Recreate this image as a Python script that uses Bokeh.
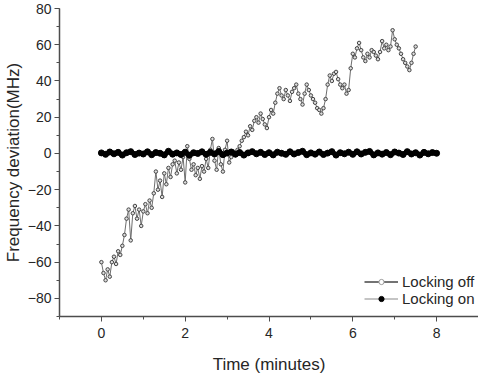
from bokeh.plotting import figure
from bokeh.models import Range1d, SingleIntervalTicker, Legend, LegendItem, ColumnDataSource
from bokeh.embed import file_html
from bokeh.resources import INLINE

# ---- data ----
step_off = 0.05
locking_off = [
    -60, -66, -70, -64, -68, -60, -57, -61, -54, -56,
    -51, -45, -36, -31, -48, -33, -29, -36, -31, -40,
    -32, -28, -33, -26, -30, -22, -10, -20, -15, -24,
    -11, -17, -8, -13, -6, -4, -11, -5, -9, -2,
    -16, 4, -3, -9, -6, -12, -8, -14, -7, -10,
    -3, -8, 2, 8, -4, -9, 3, -6, -10, 2,
    7, -5, -2, 1, -1, 2, 4, 7, 9, 12,
    10, 15, 13, 18, 20, 17, 22, 19, 16, 14,
    20, 24, 22, 28, 33, 36, 32, 30, 35, 32,
    29, 34, 36, 38, 33, 30, 27, 33, 38, 35,
    32, 30, 28, 25, 24, 22, 25, 30, 38, 43,
    40, 44, 45, 41, 38, 36, 38, 33, 35, 47,
    55, 53, 58, 61, 57, 53, 51, 55, 53, 57,
    56, 54, 52, 56, 62, 58, 60, 57, 59, 68,
    63, 60, 58, 55, 52, 50, 48, 46, 50, 55,
    59,
]
time_off = [round(i * step_off, 2) for i in range(len(locking_off))]

step_on = 0.1
locking_on = [
    0.3, -0.5, 0.8, -0.2, 0.6, -0.9, 0.4, 1.0, -0.6, 0.2,
    -0.3, 0.9, -0.7, 0.5, 0.1, -0.8, 1.2, -0.4, 0.3, -0.6,
    0.7, -1.0, 0.4, 0.0, 0.9, -0.5, 0.6, -0.3, 1.1, -0.7,
    0.2, 0.8, -0.4, 0.5, -0.9, 0.3, 1.0, -0.2, 0.6, -0.6,
    0.4, -0.8, 0.7, 0.1, -0.5, 0.9, -0.3, 0.5, 1.2, -0.7,
    0.3, -0.4, 0.8, -0.6, 0.2, 1.0, -0.9, 0.4, -0.2, 0.7,
    -0.5, 0.9, -0.3, 0.6, 1.1, -0.8, 0.3, -0.4, 0.5, -0.7,
    0.8, 0.2, -0.6, 1.0, -0.3, 0.4, -0.9, 0.6, -0.2, 0.5,
    0.1,
]
time_on = [round(i * step_on, 2) for i in range(len(locking_on))]

series_labels = ["Locking off", "Locking on"]
x_label = "Time (minutes)"
y_label = "Frequency deviation(MHz)"

FONT = "Liberation Sans"
TXT = "#262626"
AX = "#4d4d4d"

p = figure(width=478, height=376, output_backend="svg", toolbar_location=None,
           x_range=Range1d(-1, 9), y_range=Range1d(-90, 80),
           min_border_left=0, min_border_right=0, min_border_top=8, min_border_bottom=60)
p.outline_line_color = None
p.grid.visible = False
p.background_fill_color = "white"
p.border_fill_color = "white"

p.xaxis.ticker = SingleIntervalTicker(interval=2, num_minor_ticks=2)
p.yaxis.ticker = SingleIntervalTicker(interval=20, num_minor_ticks=2)

for ax in (p.xaxis, p.yaxis):
    ax.axis_line_color = AX
    ax.axis_line_width = 1.5
    ax.major_tick_line_color = AX
    ax.minor_tick_line_color = AX
    ax.major_tick_in = 0
    ax.major_tick_out = 5
    ax.minor_tick_in = 0
    ax.minor_tick_out = 3
    ax.major_label_text_font = FONT
    ax.major_label_text_font_size = "14px"
    ax.major_label_text_color = TXT
    ax.axis_label_text_font = FONT
    ax.axis_label_text_font_size = "17px"
    ax.axis_label_text_font_style = "normal"
    ax.axis_label_text_color = TXT

p.xaxis.axis_label = x_label
p.yaxis.axis_label = y_label
p.xaxis.major_label_standoff = 6
p.xaxis.axis_label_standoff = 14
p.yaxis.major_label_standoff = 3
p.yaxis.axis_label_standoff = 2

src_off = ColumnDataSource(dict(t=time_off, v=locking_off))
src_on = ColumnDataSource(dict(t=time_on, v=locking_on))

l_off = p.line("t", "v", source=src_off, line_color="#6e6e6e", line_width=1)
s_off = p.scatter("t", "v", source=src_off, marker="circle", size=3.5,
                  line_color="#444444", fill_color="#dddddd", line_width=1)

l_on = p.line("t", "v", source=src_on, line_color="black", line_width=5)
s_on = p.scatter("t", "v", source=src_on, marker="circle", size=6,
                 line_color="black", fill_color="black")

# legend-key glyphs: one point far outside the visible ranges, drawn only in the key
key_src = ColumnDataSource(dict(x=[-100], y=[-1000]))
key_off_line = p.line("x", "y", source=key_src, line_color="#444444", line_width=1.5)
key_off_mark = p.scatter("x", "y", source=key_src, marker="circle", size=3.5,
                         line_color="#999999", fill_color="white", line_width=1)
key_on_line = p.line("x", "y", source=key_src, line_color="#8a8a8a", line_width=1.2)
key_on_mark = p.scatter("x", "y", source=key_src, marker="circle", size=3.5,
                        line_color="black", fill_color="black")

legend = Legend(items=[LegendItem(label=series_labels[0], renderers=[key_off_line, key_off_mark]),
                       LegendItem(label=series_labels[1], renderers=[key_on_line, key_on_mark])],
                location=(305, 9))
legend.border_line_color = None
legend.background_fill_alpha = 0
legend.padding = 0
legend.margin = 0
legend.spacing = 0
legend.glyph_width = 34
legend.glyph_height = 13
legend.label_height = 13
legend.label_standoff = 4
legend.label_text_font = FONT
legend.label_text_font_size = "15px"
legend.label_text_line_height = 0.9
legend.label_text_color = TXT
p.add_layout(legend)

open("out.html", "w").write(file_html(p, INLINE))
